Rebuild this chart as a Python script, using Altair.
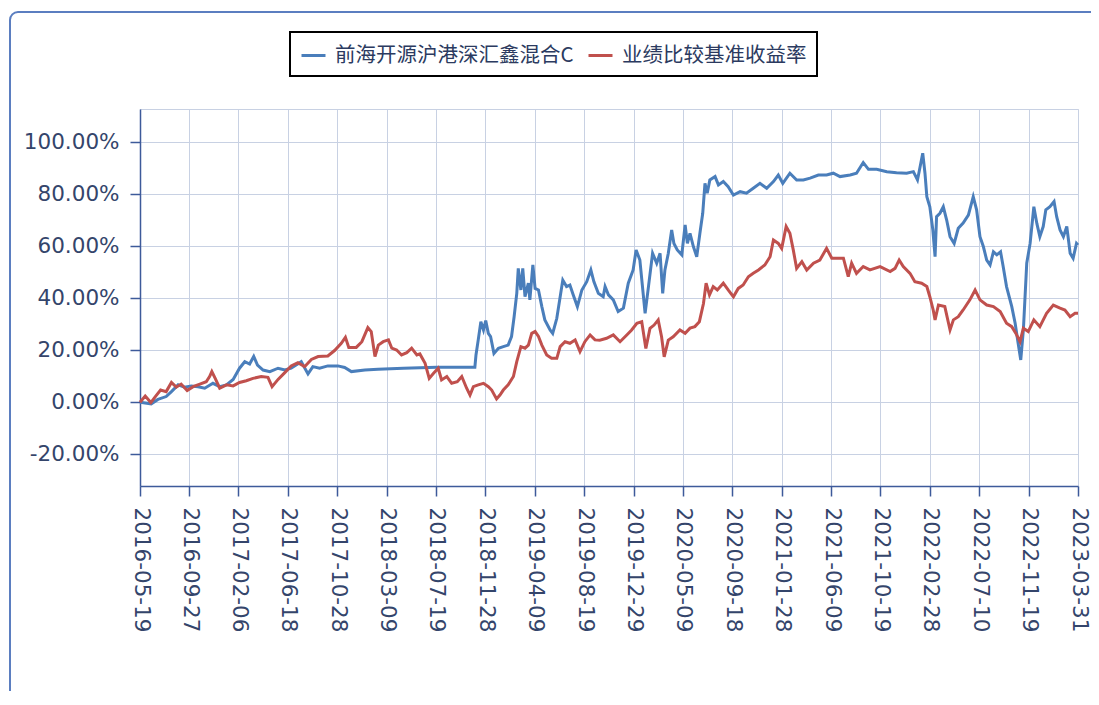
import altair as alt
import pandas as pd

START_DATE = "2016-05-19"
series_names = ["前海开源沪港深汇鑫混合C", "业绩比较基准收益率"]
series_colors = ["#4a7ebb", "#c0504d"]
x_tick_dates = ["2016-05-19", "2016-09-27", "2017-02-06", "2017-06-18", "2017-10-28",
                "2018-03-09", "2018-07-19", "2018-11-28", "2019-04-09", "2019-08-19",
                "2019-12-29", "2020-05-09", "2020-09-18", "2021-01-28", "2021-06-09",
                "2021-10-19", "2022-02-28", "2022-07-10", "2022-11-19", "2023-03-31"]
y_tick_values = [-0.2, 0.0, 0.2, 0.4, 0.6, 0.8, 1.0]

# (days since 2016-05-19, cumulative return in %)
blue_points = [
    (0, 0.0), (30, -0.6), (48, 1.1), (70, 2.2), (84, 4.1), (102, 6.7), (119, 5.8), (137, 6.3),
    (155, 6.0), (173, 5.4), (195, 7.3), (213, 6.0), (231, 6.7), (249, 8.8), (266, 13.1), (280, 15.6),
    (293, 14.7), (304, 17.6), (314, 14.3), (329, 12.4), (347, 11.8), (369, 13.1), (387, 12.4), (404, 13.1),
    (431, 15.6), (449, 10.9), (462, 13.7), (480, 13.1), (502, 14.0), (529, 14.0), (547, 13.4), (565, 11.8),
    (601, 12.4), (636, 12.7), (704, 13.1), (793, 13.5), (895, 13.5), (898, 18.2), (904, 24.0), (911, 31.0),
    (918, 27.8), (924, 31.4), (931, 26.5), (937, 25.3), (946, 18.8), (958, 20.8), (971, 21.4), (984, 22.0),
    (993, 25.3), (1000, 33.0), (1007, 41.9), (1011, 51.5), (1018, 43.2), (1023, 51.5), (1029, 40.6), (1038, 45.8),
    (1042, 39.4), (1050, 52.8), (1056, 43.8), (1065, 43.2), (1074, 36.8), (1082, 31.7), (1096, 27.8), (1103, 26.5),
    (1114, 32.3), (1123, 40.6), (1130, 47.0), (1140, 44.5), (1149, 45.1), (1158, 41.3), (1169, 36.8), (1181, 43.2),
    (1194, 46.4), (1205, 50.9), (1213, 46.4), (1225, 41.9), (1238, 40.6), (1243, 44.5), (1252, 41.3), (1265, 39.4),
    (1278, 34.9), (1292, 36.2), (1305, 45.8), (1318, 50.9), (1326, 58.6), (1336, 54.7), (1350, 34.2), (1359, 44.5),
    (1370, 57.3), (1381, 53.5), (1390, 57.3), (1397, 41.9), (1403, 50.9), (1412, 57.3), (1421, 66.3), (1427, 61.1),
    (1436, 58.6), (1448, 56.7), (1457, 68.2), (1463, 61.1), (1470, 65.0), (1479, 59.9), (1488, 56.0), (1497, 65.6),
    (1504, 72.7), (1510, 84.2), (1516, 80.4), (1523, 85.5), (1537, 86.8), (1546, 83.6), (1559, 84.9), (1572, 82.9),
    (1586, 79.7), (1604, 81.0), (1621, 80.4), (1639, 82.3), (1657, 84.2), (1675, 82.3), (1693, 84.9), (1706, 87.4),
    (1718, 84.2), (1737, 88.1), (1755, 85.5), (1773, 85.5), (1791, 86.2), (1813, 87.4), (1835, 87.4), (1853, 88.1),
    (1871, 86.8), (1898, 87.4), (1915, 88.1), (1933, 92.2), (1947, 89.6), (1969, 89.6), (1996, 88.7), (2022, 88.3),
    (2049, 88.1), (2067, 88.7), (2078, 85.5), (2085, 90.6), (2092, 95.8), (2098, 88.1), (2103, 79.1), (2111, 75.2),
    (2119, 66.3), (2125, 56.0), (2129, 71.4), (2138, 72.7), (2147, 75.2), (2156, 70.1), (2165, 63.7), (2176, 61.1),
    (2187, 66.9), (2200, 68.9), (2214, 72.0), (2227, 79.1), (2236, 74.0), (2245, 63.7), (2254, 59.9), (2263, 54.7),
    (2272, 52.8), (2281, 57.9), (2290, 56.7), (2300, 57.9), (2307, 52.2), (2316, 44.5), (2330, 36.8), (2339, 30.4),
    (2347, 22.7), (2354, 16.3), (2361, 27.8), (2370, 53.5), (2379, 61.1), (2389, 75.2), (2397, 68.8), (2405, 63.7),
    (2414, 67.6), (2421, 74.0), (2432, 75.2), (2443, 77.2), (2450, 71.4), (2459, 66.3), (2468, 63.7), (2477, 67.6),
    (2486, 57.3), (2494, 55.4), (2503, 61.1), (2507, 60.5),
]

red_points = [
    (0, 0.0), (14, 2.4), (29, -0.1), (41, 2.2), (55, 4.7), (70, 4.1), (84, 7.6), (97, 5.8),
    (110, 7.0), (126, 4.5), (142, 6.0), (160, 7.0), (177, 7.9), (186, 9.9), (192, 11.8), (201, 9.2),
    (213, 5.4), (231, 6.7), (249, 6.3), (266, 7.6), (284, 8.3), (302, 9.2), (324, 9.9), (342, 9.6),
    (353, 6.0), (369, 8.8), (387, 11.4), (404, 14.0), (422, 15.2), (440, 13.7), (458, 16.5), (476, 17.6),
    (502, 17.8), (520, 19.9), (538, 22.7), (549, 25.0), (558, 21.1), (578, 21.1), (593, 23.3), (609, 28.7),
    (618, 27.2), (628, 17.6), (637, 22.0), (650, 23.3), (664, 24.0), (673, 20.8), (686, 20.1), (699, 18.2),
    (713, 19.1), (726, 20.8), (740, 18.2), (748, 18.6), (762, 15.0), (773, 9.2), (784, 11.1), (797, 13.1),
    (806, 8.6), (820, 9.9), (833, 7.3), (848, 7.9), (860, 9.9), (873, 5.4), (882, 2.8), (891, 6.0),
    (904, 6.7), (918, 7.3), (931, 6.0), (940, 4.7), (953, 1.3), (962, 2.8), (971, 4.7), (984, 6.7),
    (998, 9.9), (1007, 15.6), (1018, 21.4), (1029, 20.8), (1038, 22.0), (1047, 26.5), (1056, 27.2), (1065, 25.3),
    (1074, 22.0), (1087, 18.2), (1100, 16.9), (1114, 16.9), (1123, 21.4), (1136, 23.3), (1149, 22.7), (1163, 24.0),
    (1176, 19.5), (1189, 23.3), (1203, 25.9), (1216, 24.0), (1229, 23.9), (1247, 24.6), (1265, 25.9), (1283, 23.3),
    (1301, 25.9), (1314, 27.8), (1328, 30.4), (1341, 31.0), (1352, 20.7), (1363, 28.4), (1374, 29.7), (1385, 31.7),
    (1394, 25.2), (1401, 17.5), (1412, 23.9), (1425, 25.2), (1443, 27.8), (1457, 26.5), (1470, 28.5), (1483, 29.1),
    (1495, 31.0), (1506, 38.0), (1513, 45.8), (1522, 41.3), (1532, 44.5), (1543, 43.2), (1559, 45.8), (1572, 43.2),
    (1586, 40.6), (1599, 43.8), (1612, 45.1), (1626, 48.3), (1639, 49.6), (1653, 50.9), (1670, 52.8), (1684, 56.0),
    (1693, 62.4), (1706, 61.1), (1715, 59.2), (1727, 67.6), (1737, 65.0), (1746, 58.6), (1755, 51.5), (1769, 54.1),
    (1782, 50.9), (1800, 53.5), (1817, 54.7), (1835, 59.2), (1849, 55.4), (1862, 55.4), (1880, 55.4), (1893, 48.3),
    (1902, 53.5), (1915, 49.6), (1933, 52.2), (1951, 50.9), (1978, 52.2), (2005, 50.3), (2018, 51.5), (2029, 54.7),
    (2040, 52.2), (2058, 49.6), (2071, 46.4), (2089, 45.8), (2103, 44.5), (2111, 40.6), (2120, 35.5), (2125, 31.7),
    (2134, 37.4), (2151, 36.8), (2165, 27.8), (2174, 31.7), (2187, 32.9), (2200, 35.5), (2218, 39.4), (2232, 43.2),
    (2245, 39.4), (2263, 37.4), (2281, 36.8), (2299, 34.9), (2316, 30.4), (2330, 29.1), (2341, 26.5), (2352, 23.3),
    (2361, 28.5), (2374, 27.2), (2389, 31.7), (2405, 29.1), (2423, 34.2), (2441, 37.4), (2459, 36.2), (2472, 35.5),
    (2486, 32.9), (2499, 34.2), (2507, 34.2),
]

start = pd.Timestamp(START_DATE)


def to_frame(points, name):
    days = [p[0] for p in points]
    vals = [p[1] / 100.0 for p in points]
    return pd.DataFrame({
        "date": start + pd.to_timedelta(days, unit="D"),
        "value": vals,
        "series": name,
    })


blue_df = to_frame(blue_points, series_names[0])
red_df = to_frame(red_points, series_names[1])

tick_dt = [alt.DateTime(year=int(d[:4]), month=int(d[5:7]), date=int(d[8:])) for d in x_tick_dates]

LABEL_COLOR = "#34456b"
AXIS_COLOR = "#3d5a9a"
GRID_COLOR = "#c8d1e3"

x_enc = alt.X(
    "date:T",
    scale=alt.Scale(domain=[tick_dt[0], tick_dt[-1]]),
    axis=alt.Axis(
        values=tick_dt, format="%Y-%m-%d", title=None,
        labelAngle=90, labelAlign="left", labelBaseline="middle",
        labelPadding=11, tickSize=10, labelOverlap=False, labelFlush=False,
        labelFont="DejaVu Sans", labelFontSize=21.5, labelColor=LABEL_COLOR,
        domainColor=AXIS_COLOR, domainWidth=1.5, tickColor=AXIS_COLOR, tickWidth=1.5,
        grid=True, gridColor=GRID_COLOR, gridWidth=1,
    ),
)
y_enc = alt.Y(
    "value:Q",
    scale=alt.Scale(domain=[-0.322, 1.128], nice=False, zero=False),
    axis=alt.Axis(
        values=y_tick_values, title=None,
        labelExpr="replace(format(datum.value, '.2%'), '−', '-')",
        labelPadding=11, tickSize=10,
        labelFont="DejaVu Sans", labelFontSize=21.5, labelColor=LABEL_COLOR,
        domainColor=AXIS_COLOR, domainWidth=1.5, tickColor=AXIS_COLOR, tickWidth=1.5,
        grid=True, gridColor=GRID_COLOR, gridWidth=1,
    ),
)
color_enc = alt.Color(
    "series:N",
    scale=alt.Scale(domain=series_names, range=series_colors),
    legend=alt.Legend(
        title=None, orient="none", legendX=150, legendY=-77,
        direction="horizontal", symbolType="stroke", symbolStrokeWidth=3,
        symbolSize=576, labelFont="Noto Sans CJK SC", labelFontSize=20.5,
        labelColor="#2b3a60", labelLimit=500, labelOffset=8, columnPadding=8,
        strokeColor="black", fillColor="white", padding=10,
    ),
)

blue = alt.Chart(blue_df).mark_line(strokeWidth=3).encode(x=x_enc, y=y_enc, color=color_enc)
red = alt.Chart(red_df).mark_line(strokeWidth=3).encode(x=x_enc, y=y_enc, color=color_enc)

frame = alt.Chart(pd.DataFrame({"k": [0]})).mark_rect(
    fill="transparent", stroke="#5b7ec0", strokeWidth=2, cornerRadius=8
).encode(x=alt.value(-130), x2=alt.value(1000), y=alt.value(-97), y2=alt.value(700))

chart = alt.layer(frame, blue, red).properties(
    width=938, height=377,
    padding={"left": 132, "top": 101, "right": 13, "bottom": 205},
    autosize=alt.AutoSizeParams(type="none"),
    background="white",
).configure_view(stroke=GRID_COLOR, strokeWidth=1).configure_legend(strokeWidth=2)

chart.save("out.html", embed_options={"renderer": "svg", "actions": False})
